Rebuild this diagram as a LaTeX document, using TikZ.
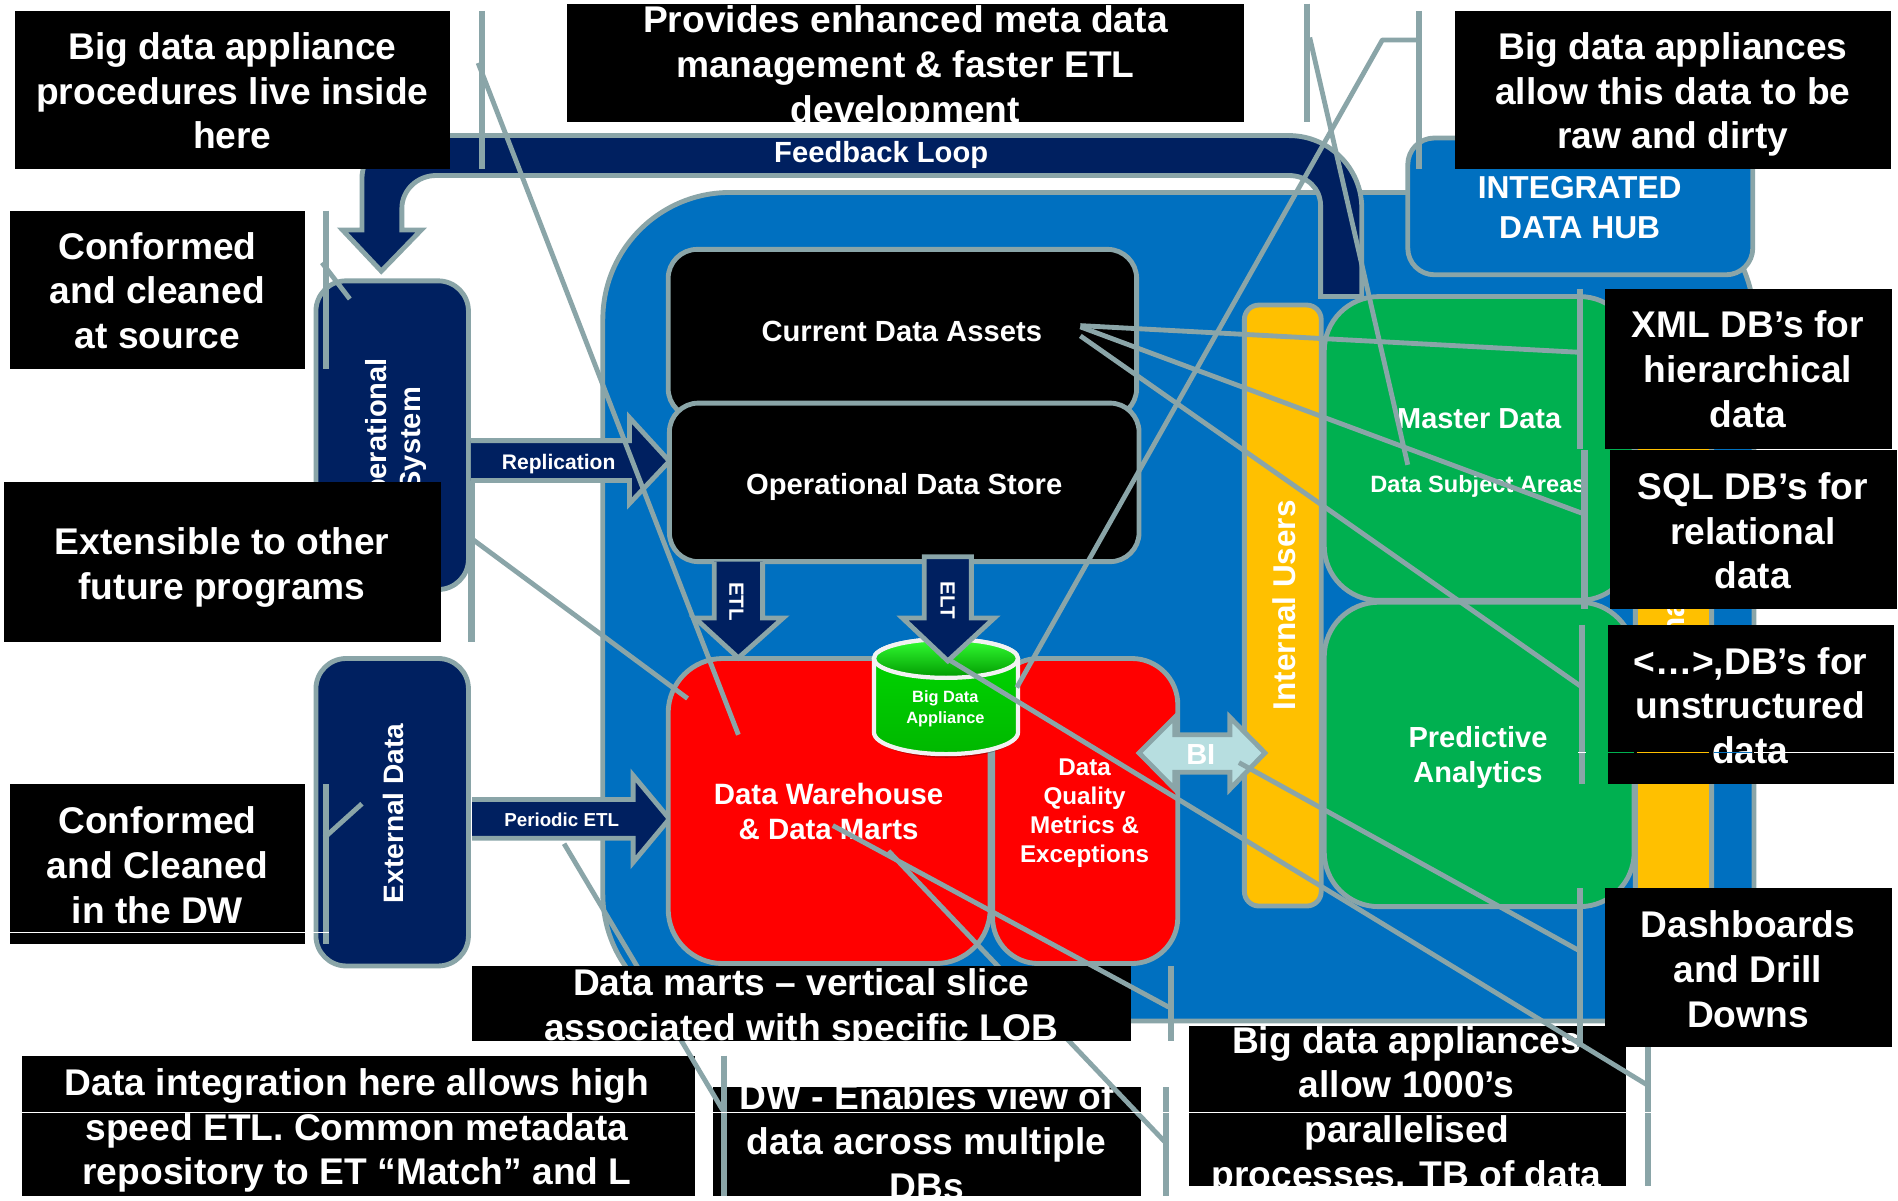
\documentclass[tikz,border=0pt]{standalone}
\usepackage{fontspec}
\setmainfont{Liberation Sans}
\definecolor{ln}{HTML}{8AA5A8}
\definecolor{navy}{HTML}{002060}
\definecolor{hubblue}{HTML}{0070C0}
\definecolor{amber}{HTML}{FFC000}
\definecolor{leaf}{HTML}{00B050}
\definecolor{pale}{HTML}{B7DEE0}
\tikzset{
  rbox/.style={draw=ln,line width=4pt,rectangle,inner sep=0pt,outer sep=0pt},
  blk/.style={fill=black,draw=none,rectangle,inner sep=0pt,outer sep=0pt},
  calltext/.style={text=white,align=center,inner sep=0pt,font=\fontsize{30.7}{37}\selectfont\bfseries},
  lab/.style={text=white,align=center,inner sep=0pt},
  leader/.style={draw=ln,line width=4pt,line join=round},
  bar/.style={draw=ln,line width=5pt},
  arrowshape/.style={fill=navy,draw=ln,line width=4pt,line join=miter},
  seam/.style={line width=0.9pt}
}
\newcommand{\RBox}[7]{%
  \pgfmathsetmacro{\rw}{#4-#2}\pgfmathsetmacro{\rh}{#5-#3}%
  \pgfmathsetmacro{\rcx}{(#4+#2)/2}\pgfmathsetmacro{\rcy}{(#5+#3)/2}%
  \node[rbox,fill=#7,rounded corners=#6pt,minimum width=\rw pt,minimum height=\rh pt] (#1) at (\rcx,\rcy) {};}
\newcommand{\Callout}[8]{%
  \pgfmathsetmacro{\rw}{#4-#2}\pgfmathsetmacro{\rh}{#5-#3}%
  \pgfmathsetmacro{\rcx}{(#4+#2)/2}\pgfmathsetmacro{\rcy}{(#5+#3)/2}%
  \node[blk,minimum width=\rw pt,minimum height=\rh pt] (#1) at (\rcx,\rcy) {};
  \begin{scope}\clip (#2,#3) rectangle (#4,#5);
  \node[calltext] (#1-t) at (#6,#7) {#8};
  \end{scope}}
\begin{document}
\begin{tikzpicture}[x=1pt,y=-1pt]
\useasboundingbox (0,0) rectangle (1568,991.4);
\fill[white] (0,0) rectangle (1568,991.4);

% integrated hub container
\draw[fill=hubblue,draw=ln,line width=4pt,rounded corners=105pt] (498,159) rectangle (1449,843.5);
\RBox{hub}{1163}{114}{1448}{227}{22}{hubblue}
\node[lab,font=\fontsize{26.2}{33}\selectfont\bfseries] (hubt) at (1305,171.5) {INTEGRATED\\DATA HUB};

% feedback loop
\draw[arrowshape] (1125,245) -- (1125,172) .. controls (1125,139) and (1098,112) .. (1065,112)
  -- (335,112) .. controls (315,112) and (299,128) .. (299,148) -- (299,190) -- (283,190) -- (315,224)
  -- (348,190) -- (332,190) -- (332,172) .. controls (332,157) and (345,145) .. (360,145)
  -- (1065,145) .. controls (1080,145) and (1091,156) .. (1091,170) -- (1091,245) -- cycle;
\node[lab,font=\fontsize{24.1}{28}\selectfont\bfseries] (fb) at (728,128) {Feedback Loop};

% sources
\RBox{ops}{261}{232}{387}{487}{25}{navy}
\node[lab,rotate=90,font=\fontsize{24}{28}\selectfont\bfseries] (opst) at (327,362.5) {Operational\\System};
\RBox{ext}{261}{544}{387}{798}{25}{navy}
\node[lab,rotate=90,font=\fontsize{23.2}{28}\selectfont\bfseries] (extt) at (325,672) {External Data};

% replication, periodic
\draw[arrowshape] (389,364) -- (520,364) -- (520,345) -- (553,381) -- (520,416) -- (520,397) -- (389,397);
\node[lab,font=\fontsize{17.4}{20}\selectfont\bfseries] (rep) at (461.5,383) {Replication};
\draw[arrowshape] (390,660.5) -- (523,660.5) -- (523,640.5) -- (553,676.5) -- (523,712.5) -- (523,692.5) -- (390,692.5);
\node[lab,font=\fontsize{15.5}{18}\selectfont\bfseries] (per) at (464,677.5) {Periodic ETL};

% stores
\RBox{cda}{552}{206}{939}{345}{24}{black}
\node[lab,font=\fontsize{24.1}{28}\selectfont\bfseries] (cdat) at (745,273.5) {Current Data Assets};
\RBox{ods}{553}{333}{941}{464}{24}{black}
\node[lab,font=\fontsize{24.1}{28}\selectfont\bfseries] (odst) at (747,402.5) {Operational Data Store};

% warehouse
\RBox{dw}{552}{544}{818}{796}{45}{red}
\RBox{dq}{820}{544}{973}{796}{38}{red}
\node[lab,font=\fontsize{24.3}{29}\selectfont\bfseries] (dwt) at (684.5,670.5) {Data Warehouse\\\& Data Marts};
\node[lab,font=\fontsize{20}{24}\selectfont\bfseries] (dqt) at (896,672) {Data\\Quality\\Metrics \&\\Exceptions};

% big data appliance
\fill[black,opacity=.25] (724,607) arc[x radius=58pt,y radius=19pt,start angle=180,end angle=360] -- cycle;
\draw[draw=white!90!gray,line width=3.5pt,top color=green!85!black,bottom color=green!72!black]
  (722,544) -- (722,605) arc[x radius=59.5pt,y radius=18pt,start angle=180,end angle=360] -- (841,544)
  arc[x radius=59.5pt,y radius=16pt,start angle=0,end angle=180] -- cycle;
\draw[draw=white!90!gray,line width=3.5pt,top color=green!80!white,bottom color=green!60!black]
  (781.5,544) ellipse[x radius=59.5pt,y radius=16pt];
\node[lab,font=\fontsize{13.5}{18}\selectfont\bfseries] (bda) at (781,585.5) {Big Data\\Appliance};

% etl, elt
\draw[arrowshape] (590,464) -- (590,510.5) -- (574,510.5) -- (610,543.5) -- (647,510.5) -- (630,510.5) -- (630,464);
\node[lab,rotate=-90,font=\fontsize{17}{20}\selectfont\bfseries] (etl) at (608.5,497) {ETL};
\draw[arrowshape] (763.5,460) -- (763.5,510.5) -- (745.5,510.5) -- (783,546) -- (821.5,510.5) -- (802.5,510.5) -- (802.5,460) -- cycle;
\node[lab,rotate=-90,font=\fontsize{17}{20}\selectfont\bfseries] (elt) at (783,496) {ELT};

% users and right block
\RBox{extu}{1351}{252}{1414}{748.5}{12}{amber}
\node[lab,rotate=90,font=\fontsize{26}{30}\selectfont\bfseries] (extut) at (1382,500) {External Users};
\RBox{intu}{1028}{252}{1091.5}{748.5}{12}{amber}
\node[lab,rotate=90,font=\fontsize{26}{30}\selectfont\bfseries] (intut) at (1061,500) {Internal Users};
\RBox{mast}{1094}{245}{1350}{496}{45}{leaf}
\node[lab,font=\fontsize{23.9}{28}\selectfont\bfseries] (mastt) at (1222,346) {Master Data};
\node[lab,font=\fontsize{19.5}{24}\selectfont\bfseries] (subj) at (1221,402) {Data Subject Areas};
\RBox{pred}{1094}{497.5}{1350}{749}{45}{leaf}
\node[lab,font=\fontsize{24}{29}\selectfont\bfseries] (predt) at (1221,625.5) {Predictive\\Analytics};

% BI
\draw[fill=pale,draw=ln,line width=4pt,line join=miter] (941,622) -- (970.5,592.5) -- (970.5,607) -- (1016,607) -- (1016,592.5)
  -- (1045,622) -- (1016,652) -- (1016,638) -- (970.5,638) -- (970.5,652) -- cycle;
\node[lab,font=\fontsize{24}{28}\selectfont\bfseries] (bi) at (992,623) {BI};

% callouts
\Callout{c1}{12}{9}{372}{140}{192}{75}{Big data appliance\\procedures live inside\\here}
\coordinate (c1b1) at (398,9); \coordinate (c1b2) at (398,140); \coordinate (c1a) at (395,52); \coordinate (c1z) at (610,607);
\draw[bar] (c1b1) -- (c1b2); \draw[leader] (c1a) -- (c1z);

\Callout{c2}{468}{3}{1028}{101}{748}{56}{Provides enhanced meta data\\management \& faster ETL\\development}
\coordinate (c2b1) at (1080,3); \coordinate (c2b2) at (1080,101); \coordinate (c2a) at (1082,31); \coordinate (c2z) at (1163,384);
\draw[bar] (c2b1) -- (c2b2); \draw[leader] (c2a) -- (c2z);

\Callout{c3}{1202}{9}{1562}{140}{1382}{78}{Big data appliances\\allow this data to be\\raw and dirty}
\coordinate (c3b1) at (1172,9); \coordinate (c3b2) at (1172,140); \coordinate (c3a) at (1172,33); \coordinate (c3m) at (1142,33); \coordinate (c3z) at (840,568);
\draw[bar] (c3b1) -- (c3b2); \draw[leader] (c3a) -- (c3m) -- (c3z);

\Callout{c4}{8}{174}{252}{305}{130}{240}{Conformed\\and cleaned\\at source}
\coordinate (c4b1) at (269,174); \coordinate (c4b2) at (269,305); \coordinate (c4a) at (266,217); \coordinate (c4z) at (289,247);
\draw[bar] (c4b1) -- (c4b2); \draw[leader] (c4a) -- (c4z);

\Callout{c5}{3}{398}{364}{530}{183.5}{468.5}{Extensible to other\\future programs}
\coordinate (c5b1) at (389.5,398); \coordinate (c5b2) at (389.5,530); \coordinate (c5a) at (391,446); \coordinate (c5z) at (568,577);
\draw[bar] (c5b1) -- (c5b2); \draw[leader] (c5a) -- (c5z);

\Callout{c6}{8}{648}{252}{780}{130}{715}{Conformed\\and Cleaned\\in the DW}
\coordinate (c6b1) at (269,648); \coordinate (c6b2) at (269,780); \coordinate (c6a) at (268,692); \coordinate (c6z) at (299,664);
\draw[bar] (c6b1) -- (c6b2); \draw[leader] (c6a) -- (c6z);

\Callout{c9}{589}{898}{943}{988}{765.5}{943}{DW - Enables view of\\data across multiple\\DBs}
\coordinate (c9b1) at (963.5,898); \coordinate (c9b2) at (963.5,988); \coordinate (c9a) at (962,943); \coordinate (c9z) at (734,703);
\draw[bar] (c9b1) -- (c9b2); \draw[leader] (c9a) -- (c9z);

\Callout{c8}{18}{872}{574}{988}{295}{934}{Data integration here allows high\\speed ETL. Common metadata\\repository to ET “Match” and L}
\coordinate (c8b1) at (598,872); \coordinate (c8b2) at (598,988); \coordinate (c8a) at (597,917); \coordinate (c8z) at (466,697);
\draw[bar] (c8b1) -- (c8b2); \draw[leader] (c8a) -- (c8z);

\Callout{c7}{390}{798}{934}{860}{662}{833}{Data marts – vertical slice\\associated with specific LOB}
\coordinate (c7b1) at (967,798); \coordinate (c7b2) at (967,860); \coordinate (c7a) at (965.5,832); \coordinate (c7z) at (688,682);
\draw[bar] (c7b1) -- (c7b2); \draw[leader] (c7a) -- (c7z);

\Callout{c10}{982}{848}{1343}{980}{1162}{917.5}{Big data appliances\\allow 1000’s\\parallelised\\processes. TB of data}
\coordinate (c10b1) at (1361.5,848); \coordinate (c10b2) at (1361.5,980); \coordinate (c10a) at (1362,897); \coordinate (c10z) at (784,545);
\draw[bar] (c10b1) -- (c10b2); \draw[leader] (c10a) -- (c10z);

\Callout{c11}{1326}{239}{1563}{371}{1444}{305}{XML DB’s for\\hierarchical\\data}
\coordinate (c11b1) at (1305,239); \coordinate (c11b2) at (1305,371); \coordinate (c11a) at (1304,291); \coordinate (c11z) at (892.5,269);
\draw[bar] (c11b1) -- (c11b2); \draw[leader] (c11a) -- (c11z);

\Callout{c12}{1330}{372}{1567}{503}{1448}{438.5}{SQL DB’s for\\relational\\data}
\coordinate (c12b1) at (1309,372); \coordinate (c12b2) at (1309,503); \coordinate (c12a) at (1307,424); \coordinate (c12z) at (892.5,270);
\draw[bar] (c12b1) -- (c12b2); \draw[leader] (c12a) -- (c12z);

\Callout{c13}{1328}{516}{1565}{648}{1446}{583}{<…>,DB’s for\\unstructured\\data}
\coordinate (c13b1) at (1307,516); \coordinate (c13b2) at (1307,648); \coordinate (c13a) at (1306,567); \coordinate (c13z) at (892.5,277.5);
\draw[bar] (c13b1) -- (c13b2); \draw[leader] (c13a) -- (c13z);

\Callout{c14}{1326}{734}{1563}{865}{1444}{800.5}{Dashboards\\and Drill\\Downs}
\coordinate (c14b1) at (1305,734); \coordinate (c14b2) at (1305,865); \coordinate (c14a) at (1304,785); \coordinate (c14z) at (1023.5,630);
\draw[bar] (c14b1) -- (c14b2); \draw[leader] (c14a) -- (c14z);

% seams in the callout boxes
\draw[seam,white] (6,770.6) -- (272,770.6);
\draw[seam,white] (15,919) -- (1366,919);
\draw[seam,leaf] (1328,621.5) -- (1350,621.5);
\draw[seam,amber] (1352,621.5) -- (1412,621.5);
\draw[seam,hubblue] (1416,621.5) -- (1447,621.5);
\draw[seam,white] (1449,621.5) -- (1565,621.5);
\draw[seam,white] (1304,621.5) -- (1310,621.5);
\end{tikzpicture}
\end{document}
